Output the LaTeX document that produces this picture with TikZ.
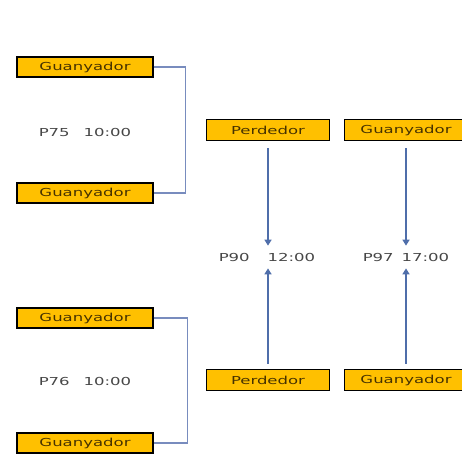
\documentclass[tikz,border=0pt]{standalone}
\usepackage{fontspec}
\usetikzlibrary{arrows.meta}
\newfontfamily\diagfont[FakeStretch=1.5]{DejaVu Sans}
\definecolor{boxgold}{RGB}{255,192,0}
\definecolor{boxtext}{RGB}{70,50,0}
\definecolor{linkblue}{RGB}{79,110,170}
\definecolor{bracketblue}{RGB}{120,140,190}
\definecolor{labelgray}{RGB}{70,70,70}
\tikzset{
  teambox/.style={draw=black, line width=1.2pt, fill=boxgold, text=boxtext,
    minimum width=136pt, minimum height=20pt, inner sep=0pt,
    font=\diagfont\fontsize{11}{12}\selectfont},
  matchlabel/.style={text=labelgray, inner sep=1pt,
    font=\diagfont\fontsize{11}{12}\selectfont},
  bracket/.style={draw=bracketblue, line width=1.1pt},
  feed/.style={draw=linkblue, line width=1.6pt, -{Triangle[width=7pt,length=6pt]}}
}
\begin{document}
\begin{tikzpicture}[x=1pt, y=-1pt]
    \useasboundingbox (0,0) rectangle (462,461);

    % first round, left column
    \node[teambox] (g1) at (85,67) {Guanyador};
    \node[teambox] (g2) at (85,193) {Guanyador};
    \node[matchlabel] (p75) at (85,132) {P75\hspace{14pt}10:00};

    \node[teambox] (g3) at (85,318) {Guanyador};
    \node[teambox] (g4) at (85,443) {Guanyador};
    \node[matchlabel] (p76) at (85,381) {P76\hspace{14pt}10:00};

    \draw[bracket] (g1.east) -- ++(32,0) |- (g2.east);
    \draw[bracket] (g3.east) -- ++(34,0) |- (g4.east);

    % later matches
    \node[teambox, minimum width=123pt, minimum height=21pt] (l1) at (268,130) {Perdedor};
    \node[teambox, minimum width=123pt, minimum height=21pt] (w1) at (406,130) {Guanyador};
    \node[teambox, minimum width=123pt, minimum height=21pt] (l2) at (268,380) {Perdedor};
    \node[teambox, minimum width=123pt, minimum height=21pt] (w2) at (406,380) {Guanyador};

    \node[matchlabel] (p90) at (267,257) {P90\hspace{18pt}12:00};
    \node[matchlabel] (p97) at (406,257) {P97\hspace{8pt}17:00};

    \draw[feed] ([yshift=-7pt]l1.south) -- ([yshift=6pt]l1.south |- p90.north);
    \draw[feed] ([yshift=-7pt]w1.south) -- ([yshift=6pt]w1.south |- p97.north);
    \draw[feed] ([yshift=5pt]l2.north) -- ([yshift=-6pt]l2.north |- p90.south);
    \draw[feed] ([yshift=5pt]w2.north) -- ([yshift=-6pt]w2.north |- p97.south);
\end{tikzpicture}
\end{document}
